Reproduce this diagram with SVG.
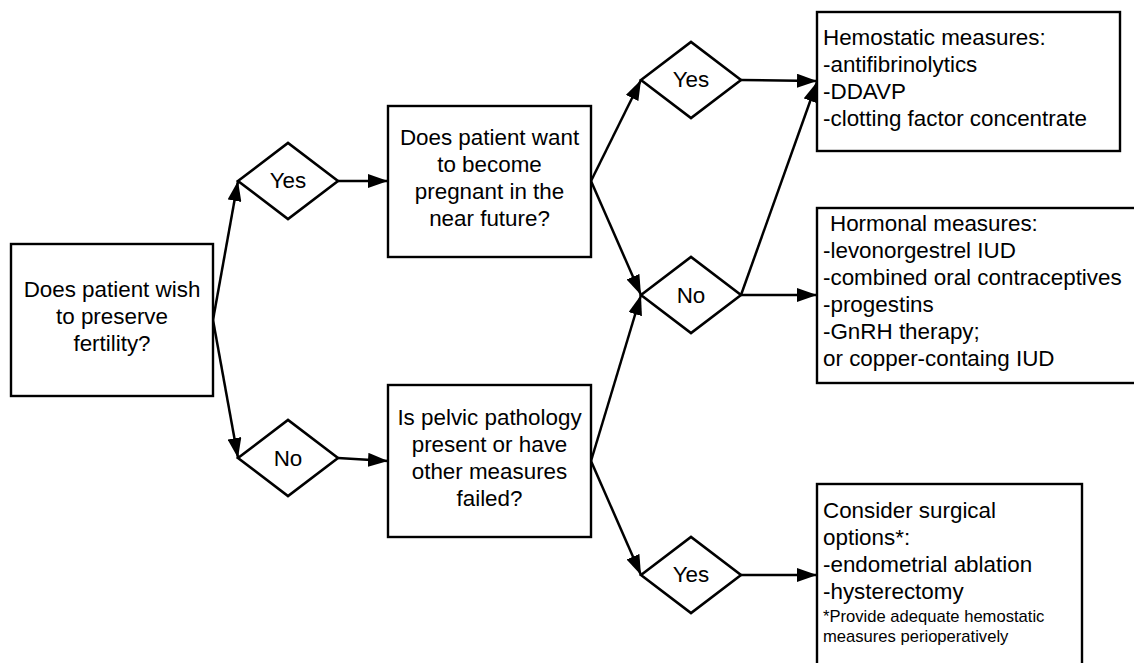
<svg xmlns="http://www.w3.org/2000/svg" width="1134" height="663" viewBox="0 0 1134 663">
<defs>
<style>
.box{fill:#fff;stroke:#000;stroke-width:2.4}
.dia{fill:#fff;stroke:#000;stroke-width:2.6}
.t{font-family:"Liberation Sans",Arial,sans-serif;font-size:22.4px;fill:#000}
.c{text-anchor:middle}
.s{font-family:"Liberation Sans",Arial,sans-serif;font-size:16.6px;fill:#000}
.ln{fill:none;stroke:#000;stroke-width:2.5;marker-end:url(#ah)}
</style>
<marker id="ah" markerUnits="userSpaceOnUse" markerWidth="20" markerHeight="14" refX="20" refY="7" orient="auto" viewBox="0 0 20 14">
<path d="M0,0 L20,7 L0,14 z" fill="#000"/>
</marker>
</defs>
<rect width="1134" height="663" fill="#fff"/>
<g id="connectors">
<line class="ln" x1="213" y1="320" x2="238" y2="181"/>
<line class="ln" x1="213" y1="320" x2="238" y2="458"/>
<line class="ln" x1="338" y1="181" x2="388" y2="181"/>
<line class="ln" x1="338" y1="458" x2="388" y2="461"/>
<line class="ln" x1="591" y1="181" x2="641" y2="80"/>
<line class="ln" x1="591" y1="181" x2="641" y2="295"/>
<line class="ln" x1="591" y1="461" x2="641" y2="295"/>
<line class="ln" x1="591" y1="461" x2="641" y2="575"/>
<line class="ln" x1="741" y1="80" x2="817" y2="81"/>
<line class="ln" x1="741" y1="295" x2="817" y2="82"/>
<line class="ln" x1="741" y1="295" x2="817" y2="295"/>
<line class="ln" x1="741" y1="575" x2="817" y2="575"/>
</g>
<g id="q1">
<rect class="box" x="11" y="244" width="202" height="152"/>
<text class="t c" x="112" y="297">Does patient wish</text>
<text class="t c" x="112" y="324">to preserve</text>
<text class="t c" x="112" y="351">fertility?</text>
</g>
<g id="yes1">
<polygon class="dia" points="238,181 288,143 338,181 288,219"/>
<text class="t c" x="288" y="188">Yes</text>
</g>
<g id="no1">
<polygon class="dia" points="238,458 288,420 338,458 288,496"/>
<text class="t c" x="288" y="466">No</text>
</g>
<g id="q2">
<rect class="box" x="388" y="106" width="203" height="151"/>
<text class="t c" x="489.5" y="145">Does patient want</text>
<text class="t c" x="489.5" y="172">to become</text>
<text class="t c" x="489.5" y="199">pregnant in the</text>
<text class="t c" x="489.5" y="226">near future?</text>
</g>
<g id="q3">
<rect class="box" x="388" y="385" width="203" height="152"/>
<text class="t c" x="489.5" y="425">Is pelvic pathology</text>
<text class="t c" x="489.5" y="452">present or have</text>
<text class="t c" x="489.5" y="479">other measures</text>
<text class="t c" x="489.5" y="506">failed?</text>
</g>
<g id="yes2">
<polygon class="dia" points="641,80 691,42 741,80 691,118"/>
<text class="t c" x="691" y="87">Yes</text>
</g>
<g id="no2">
<polygon class="dia" points="641,295 691,257 741,295 691,333"/>
<text class="t c" x="691" y="303">No</text>
</g>
<g id="yes3">
<polygon class="dia" points="641,575 691,537 741,575 691,613"/>
<text class="t c" x="691" y="582">Yes</text>
</g>
<g id="hemostatic">
<rect class="box" x="817" y="12" width="303" height="139"/>
<text class="t" x="823" y="45">Hemostatic measures:</text>
<text class="t" x="823" y="72">-antifibrinolytics</text>
<text class="t" x="823" y="99">-DDAVP</text>
<text class="t" x="823" y="126">-clotting factor concentrate</text>
</g>
<g id="hormonal">
<rect class="box" x="817" y="208" width="330" height="175"/>
<text class="t" x="830" y="231">Hormonal measures:</text>
<text class="t" x="823" y="258">-levonorgestrel IUD</text>
<text class="t" x="823" y="285">-combined oral contraceptives</text>
<text class="t" x="823" y="312">-progestins</text>
<text class="t" x="823" y="339">-GnRH therapy;</text>
<text class="t" x="823" y="366">or copper-containg IUD</text>
</g>
<g id="surgical">
<rect class="box" x="817" y="484" width="265" height="195"/>
<text class="t" x="823" y="518">Consider surgical</text>
<text class="t" x="823" y="545">options*:</text>
<text class="t" x="823" y="572">-endometrial ablation</text>
<text class="t" x="823" y="599">-hysterectomy</text>
<text class="s" x="823" y="622">*Provide adequate hemostatic</text>
<text class="s" x="823" y="642">measures perioperatively</text>
</g>
</svg>
